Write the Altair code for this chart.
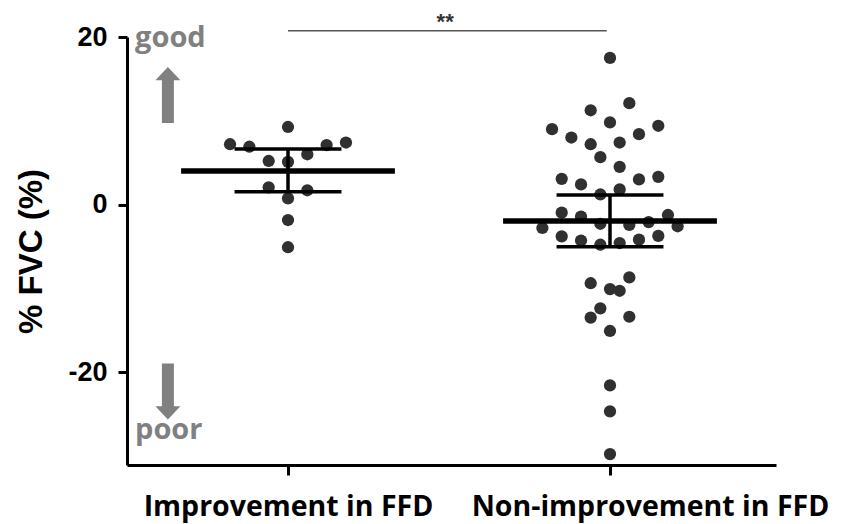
import altair as alt
import pandas as pd

# ---------------- data ----------------
groups = ["Improvement in FFD", "Non-improvement in FFD"]

imp_values = [9.26, 7.2, 6.9, 7.1, 7.4, 5.2, 5.1, 6.0, 2.05, 1.7, 0.74, -1.85, -5.1]
imp_lanes = [0, -6, -4, 4, 6, -2, 0, 2, -2, 2, 0, 0, 0]

non_values = [17.5, 12.1, 11.25, 9.8, 9.4, 9.0, 8.0, 8.4, 7.2, 7.4, 5.65, 4.5,
              3.07, 2.4, 3.0, 3.3, 1.2, 1.8,
              -0.97, -1.45, -1.25, -2.3, -2.44, -2.1, -2.8, -2.6,
              -3.8, -4.3, -4.8, -4.6, -4.2, -3.75,
              -9.4, -10.1, -10.3, -8.7, -12.4, -13.5, -13.4, -15.1,
              -21.6, -24.7, -29.8]
non_lanes = [0, 2, -2, 0, 5, -6, -4, 3, -2, 1, -1, 1,
             -5, -3, 3, 5, -1, 1,
             -5, -3, 6, -1, 2, 4, -7, 7,
             -5, -3, -1, 1, 3, 5,
             -2, 0, 1, 2, -1, -2, 2, 0,
             0, 0, 0]

group_means = [4.0, -1.97]
group_upper = [6.63, 1.14]
group_lower = [1.53, -5.03]

y_ticks = [-20, 0, 20]
y_title = "% FVC (%)"
sig_label = "**"
good_label = "good"
poor_label = "poor"

# ---------------- tables ----------------
LANE = 0.03       # horizontal spacing of swarm lanes (category units)
MEAN_HALF = 0.332
CAP_HALF = 0.166

points = pd.DataFrame({
    "pos": [1] * len(imp_values) + [2] * len(non_values),
    "value": imp_values + non_values,
    "lane": imp_lanes + non_lanes,
})
summary = pd.DataFrame({"pos": [1, 2], "mean": group_means,
                        "hi": group_upper, "lo": group_lower})

sig = pd.DataFrame({"x1": [1.0], "x2": [1.99], "y": [20.75],
                    "tx": [1.488], "ty": [21.0], "label": [sig_label]})
notes = pd.DataFrame({"x": [0.525, 0.525], "y": [18.8, -28.0],
                      "label": [good_label, poor_label]})
arrow_up = pd.DataFrame({"x": [0.627], "y": [13.09]})
arrow_down = pd.DataFrame({"x": [0.627], "y": [-22.32]})

xscale = alt.Scale(domain=[0.5, 2.5155], nice=False, zero=False)
yscale = alt.Scale(domain=[-31.1, 20], nice=False, zero=False)

label_expr = f"datum.value == 1 ? '{groups[0]}' : '{groups[1]}'"

x_axis = alt.Axis(values=[1, 2], labelExpr=label_expr, title=None, grid=False,
                  domainColor="black", domainWidth=3, tickColor="black",
                  tickWidth=3, tickSize=10, labelFont="Open Sans",
                  labelFontWeight="bold", labelFontSize=28.5, labelColor="black",
                  labelPadding=17, labelAngle=0, labelOverlap=False,
                  labelFlush=False, labelLimit=0,
                  labelOffset={"condition": {"test": "datum.value == 2", "value": 40},
                               "value": 0})
y_axis = alt.Axis(values=y_ticks, title=y_title, grid=False,
                  labelExpr="'' + datum.value",
                  domainColor="black", domainWidth=3, tickColor="black",
                  tickWidth=3, tickSize=9, labelFont="Liberation Sans",
                  labelFontWeight="bold", labelFontSize=27, labelColor="black",
                  labelPadding=11, labelFlush=False,
                  titleFont="Liberation Sans", titleFontWeight="bold",
                  titleFontSize=33, titleColor="black", titlePadding=19)

X = alt.X("xp:Q", scale=xscale, axis=x_axis)
Y = alt.Y("value:Q", scale=yscale, axis=y_axis)

dots = alt.Chart(points).transform_calculate(
    xp=f"datum.pos + datum.lane * {LANE}"
).mark_point(filled=True, shape="circle", size=150, color="#303030",
             opacity=1).encode(x=X, y=Y)

mean_lines = alt.Chart(summary).transform_calculate(
    a=f"datum.pos - {MEAN_HALF}", b=f"datum.pos + {MEAN_HALF}"
).mark_rule(color="black", strokeWidth=5.5).encode(
    x=alt.X("a:Q", scale=xscale), x2="b:Q",
    y=alt.Y("mean:Q", scale=yscale))

err_vert = alt.Chart(summary).mark_rule(color="black", strokeWidth=3.5).encode(
    x=alt.X("pos:Q", scale=xscale),
    y=alt.Y("lo:Q", scale=yscale), y2="hi:Q")

cap_hi = alt.Chart(summary).transform_calculate(
    a=f"datum.pos - {CAP_HALF}", b=f"datum.pos + {CAP_HALF}"
).mark_rule(color="black", strokeWidth=3.5).encode(
    x=alt.X("a:Q", scale=xscale), x2="b:Q",
    y=alt.Y("hi:Q", scale=yscale))

cap_lo = alt.Chart(summary).transform_calculate(
    a=f"datum.pos - {CAP_HALF}", b=f"datum.pos + {CAP_HALF}"
).mark_rule(color="black", strokeWidth=3.5).encode(
    x=alt.X("a:Q", scale=xscale), x2="b:Q",
    y=alt.Y("lo:Q", scale=yscale))

sig_line = alt.Chart(sig).mark_rule(color="#555555", strokeWidth=1.5).encode(
    x=alt.X("x1:Q", scale=xscale), x2="x2:Q",
    y=alt.Y("y:Q", scale=yscale))

sig_text = alt.Chart(sig).mark_text(
    font="Liberation Sans", fontSize=22, fontWeight="bold", color="#333333",
    align="center", baseline="alphabetic").encode(
    x=alt.X("tx:Q", scale=xscale), y=alt.Y("ty:Q", scale=yscale), text="label:N")

note_text = alt.Chart(notes).mark_text(
    font="Open Sans", fontSize=29, fontWeight="bold", color="#808080",
    align="left", baseline="alphabetic").encode(
    x=alt.X("x:Q", scale=xscale), y=alt.Y("y:Q", scale=yscale), text="label:N")

up_path = ("M -0.214 1 L 0.214 1 L 0.214 -0.525 L 0.446 -0.525 L 0 -1 "
           "L -0.446 -0.525 L -0.214 -0.525 Z")
down_path = ("M -0.214 -1 L 0.214 -1 L 0.214 0.525 L 0.446 0.525 L 0 1 "
             "L -0.446 0.525 L -0.214 0.525 Z")

up_arrow = alt.Chart(arrow_up).mark_point(
    shape=up_path, filled=True, size=3136, color="#808080", opacity=1,
    strokeWidth=0).encode(x=alt.X("x:Q", scale=xscale), y=alt.Y("y:Q", scale=yscale))
down_arrow = alt.Chart(arrow_down).mark_point(
    shape=down_path, filled=True, size=3136, color="#808080", opacity=1,
    strokeWidth=0).encode(x=alt.X("x:Q", scale=xscale), y=alt.Y("y:Q", scale=yscale))

chart = alt.layer(
    dots, mean_lines, err_vert, cap_hi, cap_lo,
    sig_line, sig_text, note_text, up_arrow, down_arrow
).properties(
    width=649, height=428,
    autosize=alt.AutoSizeParams(type="none"),
    padding={"left": 119, "top": 29, "right": 57, "bottom": 58},
    background="white",
).configure_view(stroke=None)

chart.save("out.html", embed_options={"renderer": "svg", "actions": False})
